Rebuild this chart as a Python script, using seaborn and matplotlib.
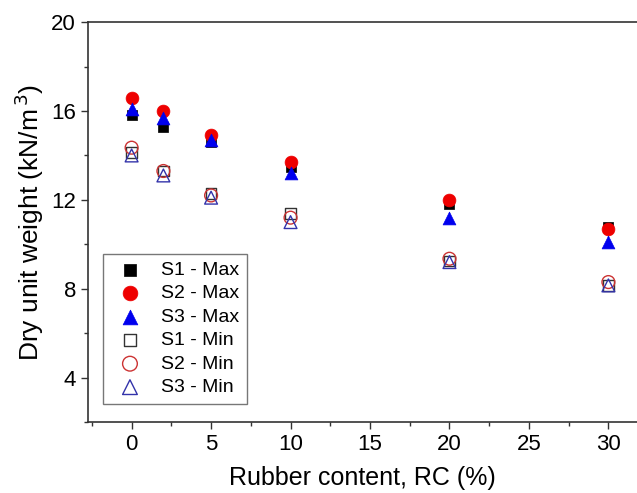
import matplotlib
matplotlib.use("Agg")
import matplotlib.pyplot as plt
import seaborn as sns
import pandas as pd
from matplotlib.ticker import MultipleLocator

rc = [0, 2, 5, 10, 20, 30]
s1_max = [15.8, 15.3, 14.6, 13.5, 11.8, 10.8]
s2_max = [16.6, 16.0, 14.9, 13.7, 12.0, 10.7]
s3_max = [16.1, 15.7, 14.7, 13.2, 11.2, 10.1]
s1_min = [14.15, 13.3, 12.3, 11.4, 9.25, 8.15]
s2_min = [14.35, 13.3, 12.2, 11.2, 9.35, 8.3]
s3_min = [14.0, 13.1, 12.1, 11.0, 9.2, 8.15]

labels = ["S1 - Max", "S2 - Max", "S3 - Max", "S1 - Min", "S2 - Min", "S3 - Min"]
values = [s1_max, s2_max, s3_max, s1_min, s2_min, s3_min]

sns.set_style("ticks", {"text.color": "black", "axes.labelcolor": "black",
                        "xtick.color": "black", "ytick.color": "black"})
plt.rcParams['font.family'] = ['Liberation Sans', 'DejaVu Sans']

fig = plt.figure(figsize=(6.37, 4.93), dpi=100)
ax = fig.add_axes([0.138, 0.144, 0.862, 0.811])

styles = [
    dict(marker="s", color="black", filled=True, s=60),
    dict(marker="o", color="#ee0000", filled=True, s=85),
    dict(marker="^", color="#0000ee", filled=True, s=85),
    dict(marker="s", color="#333333", filled=False, s=60),
    dict(marker="o", color="#cc3333", filled=False, s=85),
    dict(marker="^", color="#3333aa", filled=False, s=85),
]

for lab, vals, st in zip(labels, values, styles):
    df = pd.DataFrame({"RC": rc, "val": vals})
    if st["filled"]:
        sns.scatterplot(data=df, x="RC", y="val", ax=ax, marker=st["marker"],
                        color=st["color"], edgecolor=st["color"], s=st["s"],
                        linewidth=0.5, label=lab, zorder=3)
    else:
        sns.scatterplot(data=df, x="RC", y="val", ax=ax, marker=st["marker"],
                        facecolor="none", edgecolor=st["color"], s=st["s"],
                        linewidth=1.0, label=lab, zorder=3)

ax.set_xlim(-2.75, 31.8)
ax.set_ylim(2, 20)
ax.set_xticks([0, 5, 10, 15, 20, 25, 30])
ax.set_yticks([4, 8, 12, 16, 20])
ax.xaxis.set_minor_locator(MultipleLocator(2.5))
ax.yaxis.set_minor_locator(MultipleLocator(2))
ax.tick_params(axis="both", which="major", labelsize=16, length=5, width=1, direction="out",
               color="#333333", labelcolor="black")
ax.tick_params(axis="both", which="minor", length=3, width=1, direction="out", color="#333333")
for sp in ["left", "bottom", "top"]:
    ax.spines[sp].set_linewidth(1.2)
    ax.spines[sp].set_color("#333333")
ax.spines["right"].set_visible(False)
ax.spines["top"].set_visible(True)

ax.set_xlabel("Rubber content, RC (%)", fontsize=18, labelpad=8, color="black")
ax.set_ylabel("Dry unit weight (kN/m$^{\\,3}$)", fontsize=19, labelpad=4, color="black")

leg = ax.legend(loc="lower left", bbox_to_anchor=(0.027, 0.045), fontsize=14,
                frameon=True, fancybox=False, edgecolor="#555555",
                handletextpad=0.6, borderpad=0.4, labelspacing=0.3,
                borderaxespad=0, markerscale=1.15, labelcolor="black")
leg.get_frame().set_linewidth(1.0)

fig.savefig("out.png", dpi=100)
